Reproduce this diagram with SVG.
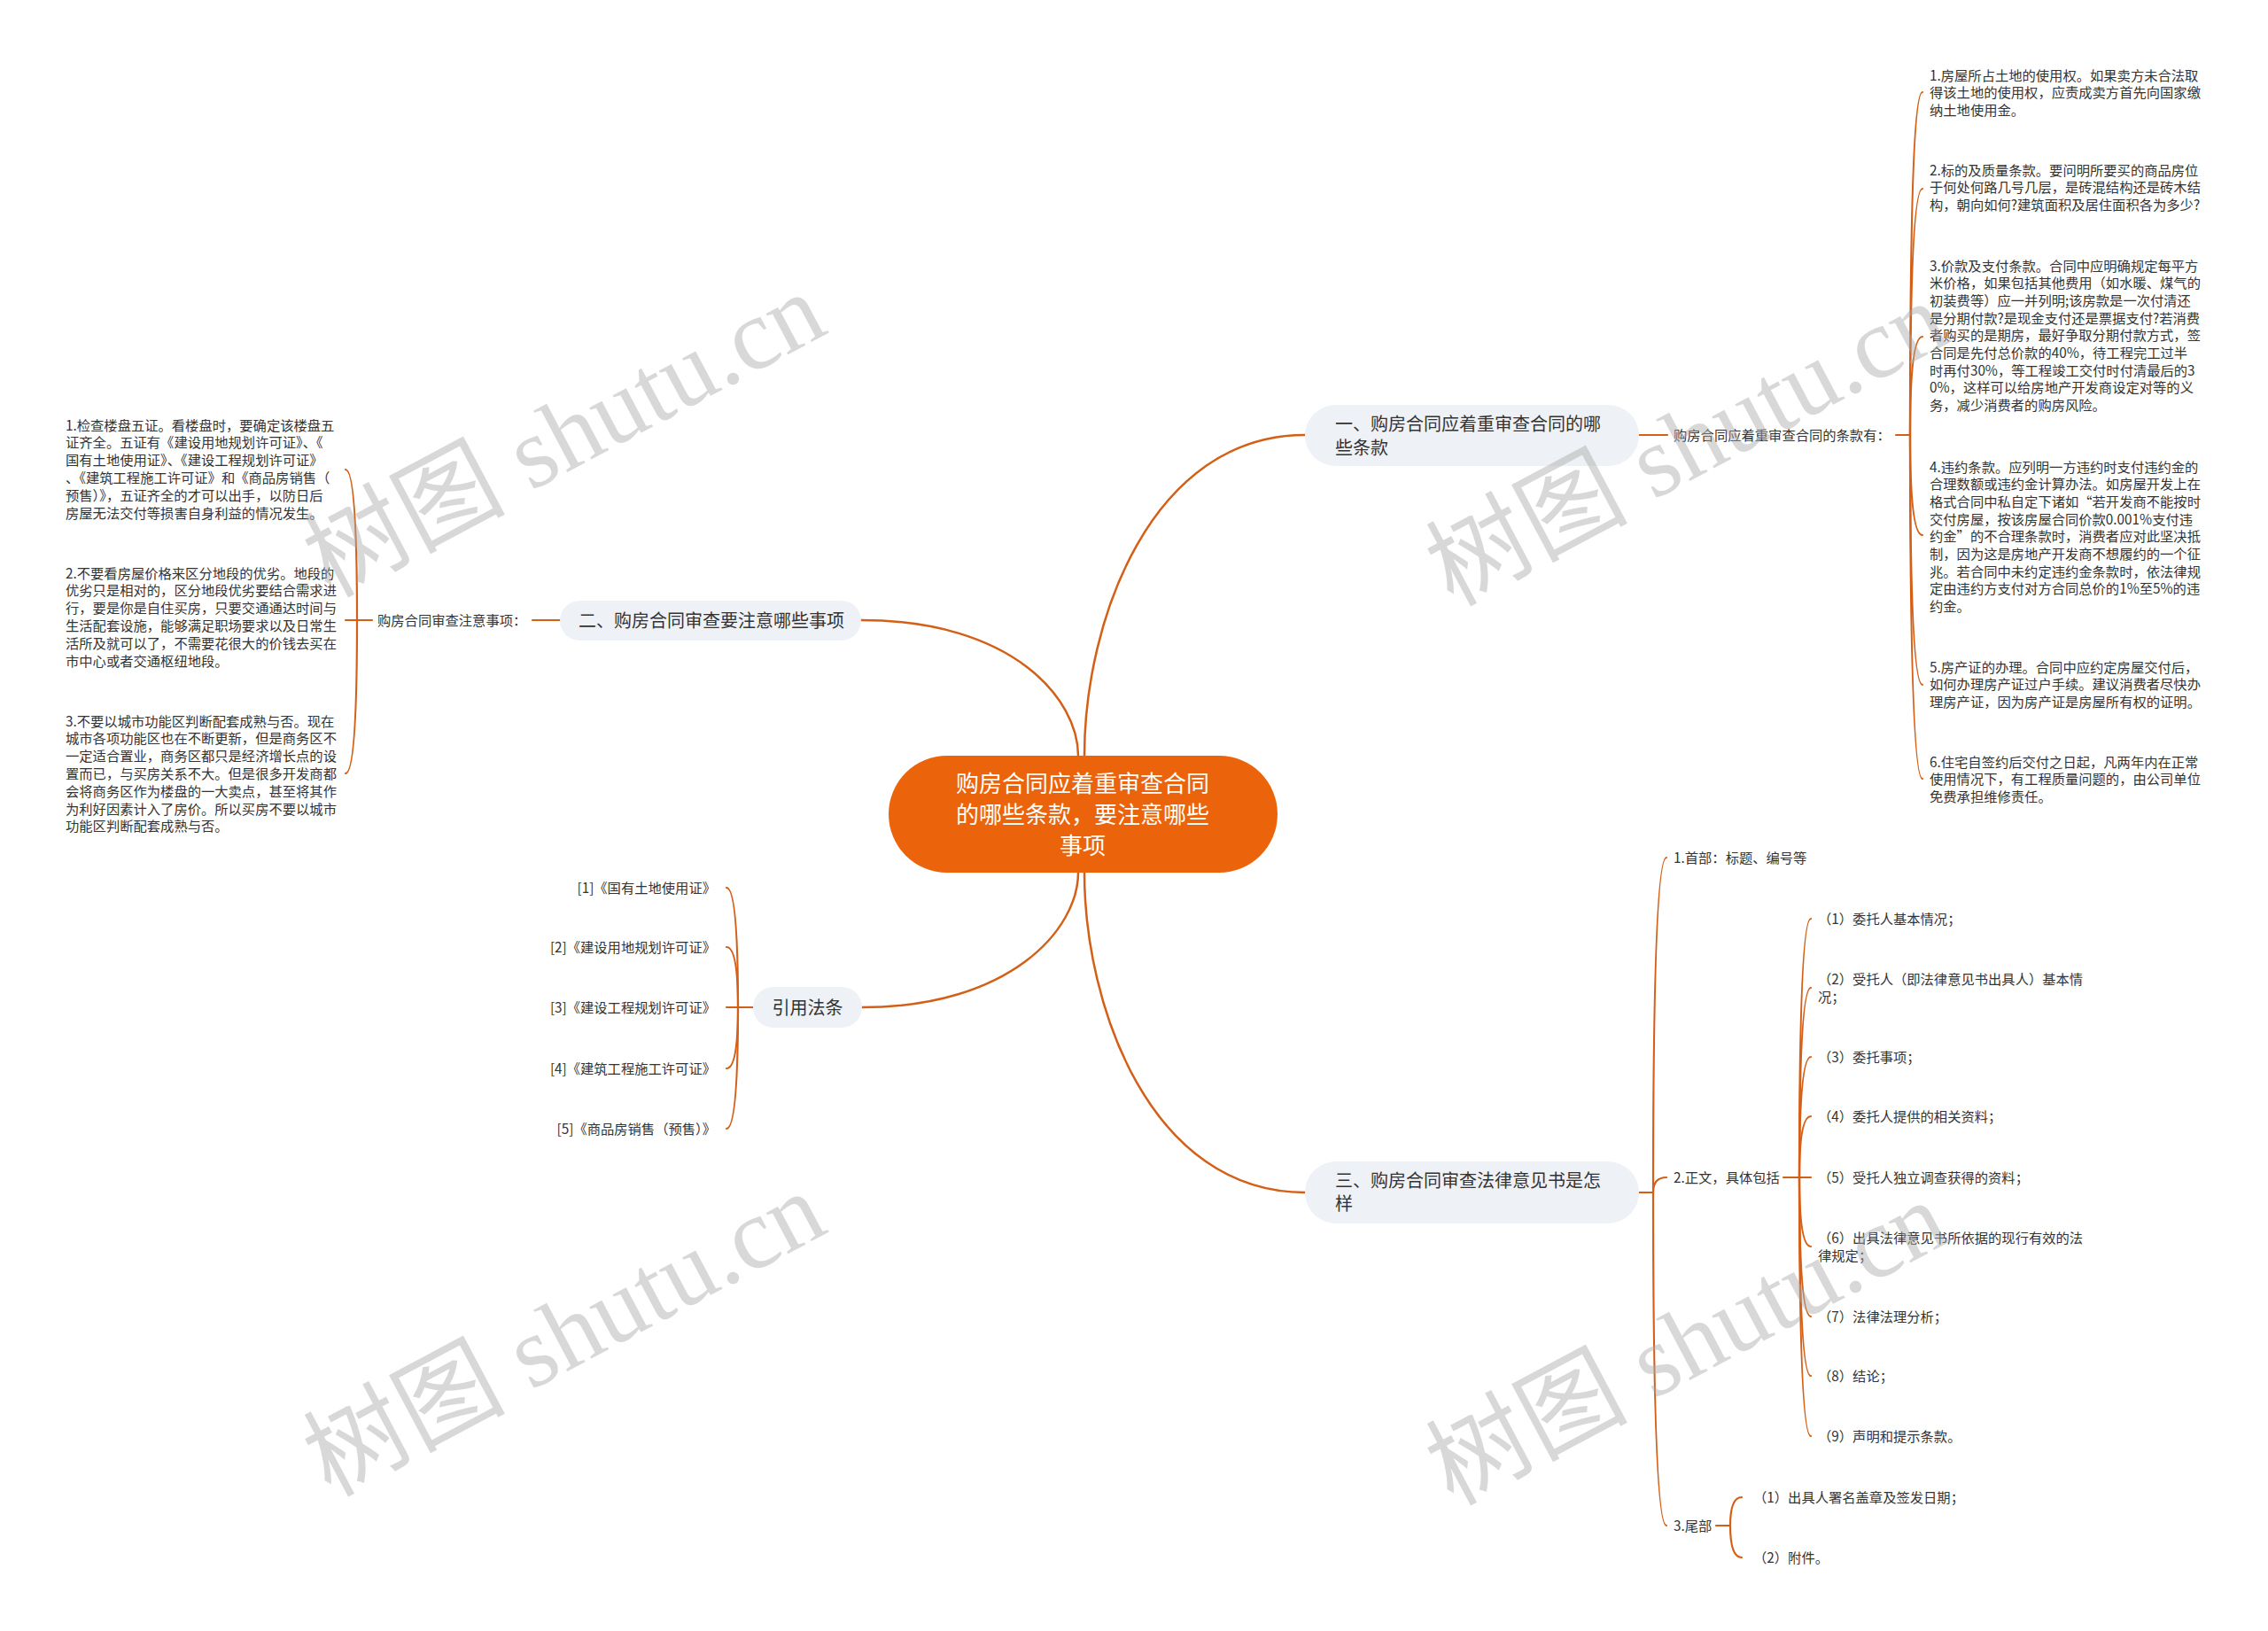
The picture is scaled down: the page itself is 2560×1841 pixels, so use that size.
<svg xmlns="http://www.w3.org/2000/svg" width="2560" height="1841" viewBox="0 0 2560 1841">
<style>
.bg{fill:#ffffff}
.ln{fill:none;stroke:#D45F16;stroke-width:2.5;stroke-linecap:round}
.br{fill:none;stroke:#D45F16;stroke-width:2.2;stroke-linecap:round}
.t{font-family:"Noto Sans CJK SC","Noto Sans",sans-serif;font-size:15.3px;fill:#333333}
.n{font-family:"Noto Sans CJK SC","Noto Sans",sans-serif;font-size:20px;fill:#333333}
.c{font-family:"Noto Sans CJK SC","Noto Sans",sans-serif;font-size:26px;fill:#ffffff}
.box{fill:#EEF1F5}
.root{fill:#EB640B}
.wm{font-family:"Liberation Serif","Noto Sans CJK SC",serif;font-size:114px;fill:#a8a8a8;fill-opacity:0.45}
</style>
<rect class="bg" x="0" y="0" width="2560" height="1841"/>

<g id="connectors">
  <path class="ln" d="M1224,853 C1224,700 1300,491 1473,491"/>
  <path class="ln" d="M1217,853 C1217,789 1143,700 972,700"/>
  <path class="ln" d="M1217,985 C1217,1049 1140,1137 973,1137"/>
  <path class="ln" d="M1224,985 C1224,1136 1299,1346 1473,1346"/>
  <path class="br" d="M1850,491 L1882,491"/>
  <path class="br" d="M2140,491 L2156,491"/>
  <path class="br" d="M2156,491 Q2156,104 2170,104"/>
  <path class="br" d="M2156,491 Q2156,213 2170,213"/>
  <path class="br" d="M2156,491 Q2156,380 2170,380"/>
  <path class="br" d="M2156,491 Q2156,604 2170,604"/>
  <path class="br" d="M2156,491 Q2156,773 2170,773"/>
  <path class="br" d="M2156,491 Q2156,879 2170,879"/>
  <path class="br" d="M632,700 L601,700"/>
  <path class="br" d="M420,700 L403,700"/>
  <path class="br" d="M403,700 Q403,530 390,530"/>
  <path class="br" d="M403,700 L390,700"/>
  <path class="br" d="M403,700 Q403,873 390,873"/>
  <path class="br" d="M850,1137 L833,1137"/>
  <path class="br" d="M833,1137 Q833,1002 820,1002"/>
  <path class="br" d="M833,1137 Q833,1069 820,1069"/>
  <path class="br" d="M833,1137 L820,1137"/>
  <path class="br" d="M833,1137 Q833,1206 820,1206"/>
  <path class="br" d="M833,1137 Q833,1274 820,1274"/>
  <path class="br" d="M1850,1346 L1866,1346"/>
  <path class="br" d="M1866,1346 Q1866,968 1881,968"/>
  <path class="br" d="M1866,1346 Q1866,1329 1881,1329"/>
  <path class="br" d="M1866,1346 Q1866,1722 1881,1722"/>
  <path class="br" d="M2013,1329 L2031,1329"/>
  <path class="br" d="M2031,1329 Q2031,1037 2044,1037"/>
  <path class="br" d="M2031,1329 Q2031,1115 2044,1115"/>
  <path class="br" d="M2031,1329 Q2031,1193 2044,1193"/>
  <path class="br" d="M2031,1329 Q2031,1260 2044,1260"/>
  <path class="br" d="M2031,1329 L2044,1329"/>
  <path class="br" d="M2031,1329 Q2031,1407 2044,1407"/>
  <path class="br" d="M2031,1329 Q2031,1486 2044,1486"/>
  <path class="br" d="M2031,1329 Q2031,1553 2044,1553"/>
  <path class="br" d="M2031,1329 Q2031,1621 2044,1621"/>
  <path class="br" d="M1937,1722 L1953,1722"/>
  <path class="br" d="M1953,1722 Q1953,1690 1966,1690"/>
  <path class="br" d="M1953,1722 Q1953,1758 1966,1758"/>
</g>

<g id="root">
  <rect class="root" x="1003" y="853" width="439" height="132" rx="66"/>
  <text class="c" text-anchor="middle"><tspan x="1222" y="894">购房合同应着重审查合同</tspan><tspan x="1222" y="929">的哪些条款，要注意哪些</tspan><tspan x="1222" y="964">事项</tspan></text>
</g>

<g id="node1">
  <rect class="box" x="1473" y="457" width="377" height="69" rx="34.5"/>
  <text class="n"><tspan x="1507" y="485.5">一、购房合同应着重审查合同的哪</tspan><tspan x="1507" y="512.5">些条款</tspan></text>
</g>
<g id="node1-label"><text class="t" x="1889" y="496.5">购房合同应着重审查合同的条款有：</text></g>
<g id="node1-item1"><text class="t"><tspan x="2178" y="90.5">1.房屋所占土地的使用权。如果卖方未合法取</tspan><tspan x="2178" dy="19.7">得该土地的使用权，应责成卖方首先向国家缴</tspan><tspan x="2178" dy="19.7">纳土地使用金。</tspan></text></g>
<g id="node1-item2"><text class="t"><tspan x="2178" y="197.5">2.标的及质量条款。要问明所要买的商品房位</tspan><tspan x="2178" dy="19.7">于何处何路几号几层，是砖混结构还是砖木结</tspan><tspan x="2178" dy="19.7">构，朝向如何?建筑面积及居住面积各为多少?</tspan></text></g>
<g id="node1-item3"><text class="t"><tspan x="2178" y="305.5">3.价款及支付条款。合同中应明确规定每平方</tspan><tspan x="2178" dy="19.7">米价格，如果包括其他费用（如水暖、煤气的</tspan><tspan x="2178" dy="19.7">初装费等）应一并列明;该房款是一次付清还</tspan><tspan x="2178" dy="19.7">是分期付款?是现金支付还是票据支付?若消费</tspan><tspan x="2178" dy="19.7">者购买的是期房，最好争取分期付款方式，签</tspan><tspan x="2178" dy="19.7">合同是先付总价款的40%，待工程完工过半</tspan><tspan x="2178" dy="19.7">时再付30%，等工程竣工交付时付清最后的3</tspan><tspan x="2178" dy="19.7">0%，这样可以给房地产开发商设定对等的义</tspan><tspan x="2178" dy="19.7">务，减少消费者的购房风险。</tspan></text></g>
<g id="node1-item4"><text class="t"><tspan x="2178" y="532.5">4.违约条款。应列明一方违约时支付违约金的</tspan><tspan x="2178" dy="19.7">合理数额或违约金计算办法。如房屋开发上在</tspan><tspan x="2178" dy="19.7">格式合同中私自定下诸如“若开发商不能按时</tspan><tspan x="2178" dy="19.7">交付房屋，按该房屋合同价款0.001%支付违</tspan><tspan x="2178" dy="19.7">约金”的不合理条款时，消费者应对此坚决抵</tspan><tspan x="2178" dy="19.7">制，因为这是房地产开发商不想履约的一个征</tspan><tspan x="2178" dy="19.7">兆。若合同中未约定违约金条款时，依法律规</tspan><tspan x="2178" dy="19.7">定由违约方支付对方合同总价的1%至5%的违</tspan><tspan x="2178" dy="19.7">约金。</tspan></text></g>
<g id="node1-item5"><text class="t"><tspan x="2178" y="758.5">5.房产证的办理。合同中应约定房屋交付后，</tspan><tspan x="2178" dy="19.7">如何办理房产证过户手续。建议消费者尽快办</tspan><tspan x="2178" dy="19.7">理房产证，因为房产证是房屋所有权的证明。</tspan></text></g>
<g id="node1-item6"><text class="t"><tspan x="2178" y="865.5">6.住宅自签约后交付之日起，凡两年内在正常</tspan><tspan x="2178" dy="19.7">使用情况下，有工程质量问题的，由公司单位</tspan><tspan x="2178" dy="19.7">免费承担维修责任。</tspan></text></g>

<g id="node2">
  <rect class="box" x="632" y="678" width="340" height="45" rx="22.5"/>
  <text class="n" x="653" y="707.5">二、购房合同审查要注意哪些事项</text>
</g>
<g id="node2-label"><text class="t" x="426" y="705.5">购房合同审查注意事项：</text></g>
<g id="node2-item1"><text class="t"><tspan x="74" y="485.5">1.检查楼盘五证。看楼盘时，要确定该楼盘五</tspan><tspan x="74" dy="19.8">证齐全。五证有《建设用地规划许可证》、《</tspan><tspan x="74" dy="19.8">国有土地使用证》、《建设工程规划许可证》</tspan><tspan x="74" dy="19.8">、《建筑工程施工许可证》和《商品房销售（</tspan><tspan x="74" dy="19.8">预售）》，五证齐全的才可以出手，以防日后</tspan><tspan x="74" dy="19.8">房屋无法交付等损害自身利益的情况发生。</tspan></text></g>
<g id="node2-item2"><text class="t"><tspan x="74" y="652.5">2.不要看房屋价格来区分地段的优劣。地段的</tspan><tspan x="74" dy="19.8">优劣只是相对的，区分地段优劣要结合需求进</tspan><tspan x="74" dy="19.8">行，要是你是自住买房，只要交通通达时间与</tspan><tspan x="74" dy="19.8">生活配套设施，能够满足职场要求以及日常生</tspan><tspan x="74" dy="19.8">活所及就可以了，不需要花很大的价钱去买在</tspan><tspan x="74" dy="19.8">市中心或者交通枢纽地段。</tspan></text></g>
<g id="node2-item3"><text class="t"><tspan x="74" y="819.5">3.不要以城市功能区判断配套成熟与否。现在</tspan><tspan x="74" dy="19.8">城市各项功能区也在不断更新，但是商务区不</tspan><tspan x="74" dy="19.8">一定适合置业，商务区都只是经济增长点的设</tspan><tspan x="74" dy="19.8">置而已，与买房关系不大。但是很多开发商都</tspan><tspan x="74" dy="19.8">会将商务区作为楼盘的一大卖点，甚至将其作</tspan><tspan x="74" dy="19.8">为利好因素计入了房价。所以买房不要以城市</tspan><tspan x="74" dy="19.8">功能区判断配套成熟与否。</tspan></text></g>

<g id="node-refs">
  <rect class="box" x="850" y="1114" width="123" height="46" rx="23"/>
  <text class="n" x="911.5" y="1145" text-anchor="middle">引用法条</text>
</g>
<g id="ref1"><text class="t" x="808" y="1007.5" text-anchor="end">[1]《国有土地使用证》</text></g>
<g id="ref2"><text class="t" x="808" y="1074.5" text-anchor="end">[2]《建设用地规划许可证》</text></g>
<g id="ref3"><text class="t" x="808" y="1142.5" text-anchor="end">[3]《建设工程规划许可证》</text></g>
<g id="ref4"><text class="t" x="808" y="1211.5" text-anchor="end">[4]《建筑工程施工许可证》</text></g>
<g id="ref5"><text class="t" x="808" y="1279.5" text-anchor="end">[5]《商品房销售（预售）》</text></g>

<g id="node3">
  <rect class="box" x="1473" y="1311" width="377" height="70" rx="35"/>
  <text class="n"><tspan x="1507" y="1339.5">三、购房合同审查法律意见书是怎</tspan><tspan x="1507" y="1365.5">样</tspan></text>
</g>
<g id="node3-head"><text class="t" x="1889" y="973.5">1.首部：标题、编号等</text></g>
<g id="node3-body"><text class="t" x="1889" y="1334.5">2.正文，具体包括</text></g>
<g id="node3-tail"><text class="t" x="1889" y="1727.5">3.尾部</text></g>
<g id="body1"><text class="t" x="2052" y="1042.5">（1）委托人基本情况；</text></g>
<g id="body2"><text class="t"><tspan x="2052" y="1110.5">（2）受托人（即法律意见书出具人）基本情</tspan><tspan x="2052" dy="20">况；</tspan></text></g>
<g id="body3"><text class="t" x="2052" y="1198.5">（3）委托事项；</text></g>
<g id="body4"><text class="t" x="2052" y="1265.5">（4）委托人提供的相关资料；</text></g>
<g id="body5"><text class="t" x="2052" y="1334.5">（5）受托人独立调查获得的资料；</text></g>
<g id="body6"><text class="t"><tspan x="2052" y="1402.5">（6）出具法律意见书所依据的现行有效的法</tspan><tspan x="2052" dy="20">律规定；</tspan></text></g>
<g id="body7"><text class="t" x="2052" y="1491.5">（7）法律法理分析；</text></g>
<g id="body8"><text class="t" x="2052" y="1558.5">（8）结论；</text></g>
<g id="body9"><text class="t" x="2052" y="1626.5">（9）声明和提示条款。</text></g>
<g id="tail1"><text class="t" x="1979" y="1695.5">（1）出具人署名盖章及签发日期；</text></g>
<g id="tail2"><text class="t" x="1979" y="1763.5">（2）附件。</text></g>

<g id="watermarks">
  <text class="wm" x="655" y="525" text-anchor="middle" transform="rotate(-28 655 525)">树图 shutu.cn</text>
  <text class="wm" x="1922" y="535" text-anchor="middle" transform="rotate(-28 1922 535)">树图 shutu.cn</text>
  <text class="wm" x="655" y="1540" text-anchor="middle" transform="rotate(-28 655 1540)">树图 shutu.cn</text>
  <text class="wm" x="1922" y="1550" text-anchor="middle" transform="rotate(-28 1922 1550)">树图 shutu.cn</text>
</g>
</svg>
